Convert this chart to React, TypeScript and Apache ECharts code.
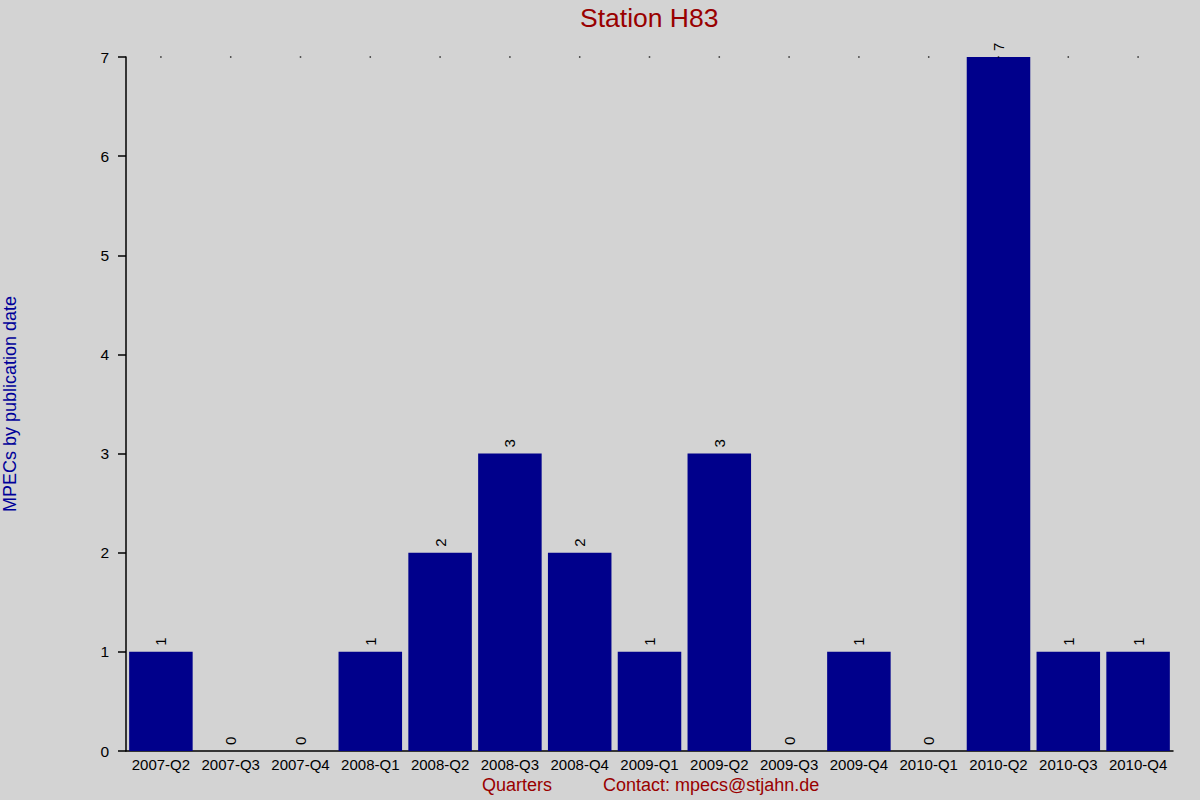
import React, { useEffect, useRef } from "react";
import * as echarts from "echarts";

const quarters = [
  "2007-Q2", "2007-Q3", "2007-Q4", "2008-Q1", "2008-Q2", "2008-Q3", "2008-Q4",
  "2009-Q1", "2009-Q2", "2009-Q3", "2009-Q4", "2010-Q1", "2010-Q2", "2010-Q3", "2010-Q4",
];
const mpecCounts = [1, 0, 0, 1, 2, 3, 2, 1, 3, 0, 1, 0, 7, 1, 1];
// small dots drawn along the top edge of the plot
const topDots = [7, 7, 7, 7, 7, 7, 7, 7, 7, 7, 7, 7, 7, 7, 7];

const FONT = "'Liberation Sans', Arial, sans-serif";
const RED = "#990000";
const BLUE = "#000099";

const App: React.FC = () => {
  const chartRef = useRef<HTMLDivElement>(null);

  useEffect(() => {
    document.body.style.margin = "0";
    const chart = echarts.init(chartRef.current!, undefined, { renderer: "svg" });

    const option: any = {
      animation: false,
      backgroundColor: "#d3d3d3",
      textStyle: { fontFamily: FONT },
      title: {
        text: "Station H83",
        left: 580,
        top: 4,
        textStyle: { color: RED, fontSize: 26.5, fontWeight: "normal", fontFamily: FONT },
        padding: 0,
      },
      grid: {
        left: 126,
        right: 27,
        top: 57,
        bottom: 49,
        containLabel: false,
        outerBoundsMode: "none",
      },
      xAxis: {
        type: "category",
        data: quarters,
        axisLine: { lineStyle: { color: "#000", width: 1.5 } },
        axisTick: { show: false },
        axisLabel: { color: "#000", fontSize: 15, margin: 6, interval: 0, fontFamily: FONT },
      },
      yAxis: {
        type: "value",
        min: 0,
        max: 7,
        interval: 1,
        name: "MPECs by publication date",
        nameLocation: "middle",
        nameGap: 107,
        nameTextStyle: { color: BLUE, fontSize: 18, fontFamily: FONT },
        axisLine: { show: true, lineStyle: { color: "#000", width: 1.5 } },
        axisTick: { show: true, length: 8, lineStyle: { color: "#000", width: 1.5 } },
        axisLabel: { color: "#000", fontSize: 15.5, margin: 17, fontFamily: FONT },
        splitLine: { show: false },
      },
      graphic: [
        {
          type: "text",
          left: 482,
          top: 776,
          style: { text: "Quarters", fill: RED, font: `18px ${FONT}` },
        },
        {
          type: "text",
          left: 603,
          top: 776,
          style: { text: "Contact: mpecs@stjahn.de", fill: RED, font: `18px ${FONT}` },
        },
      ],
      series: [
        {
          type: "bar",
          data: mpecCounts,
          barCategoryGap: "9%",
          itemStyle: { color: "#00008b" },
          label: {
            show: true,
            position: "top",
            rotate: 90,
            align: "left",
            verticalAlign: "middle",
            distance: 6,
            color: "#000",
            fontSize: 15,
            fontFamily: FONT,
          },
        },
        {
          type: "scatter",
          data: topDots,
          symbol: "rect",
          symbolSize: 1.5,
          itemStyle: { color: "#000" },
          z: 5,
        },
      ],
    };

    chart.setOption(option);
    return () => {
      chart.dispose();
    };
  }, []);

  return <div ref={chartRef} style={{ width: "1200px", height: "800px" }}></div>;
};

export default App;
